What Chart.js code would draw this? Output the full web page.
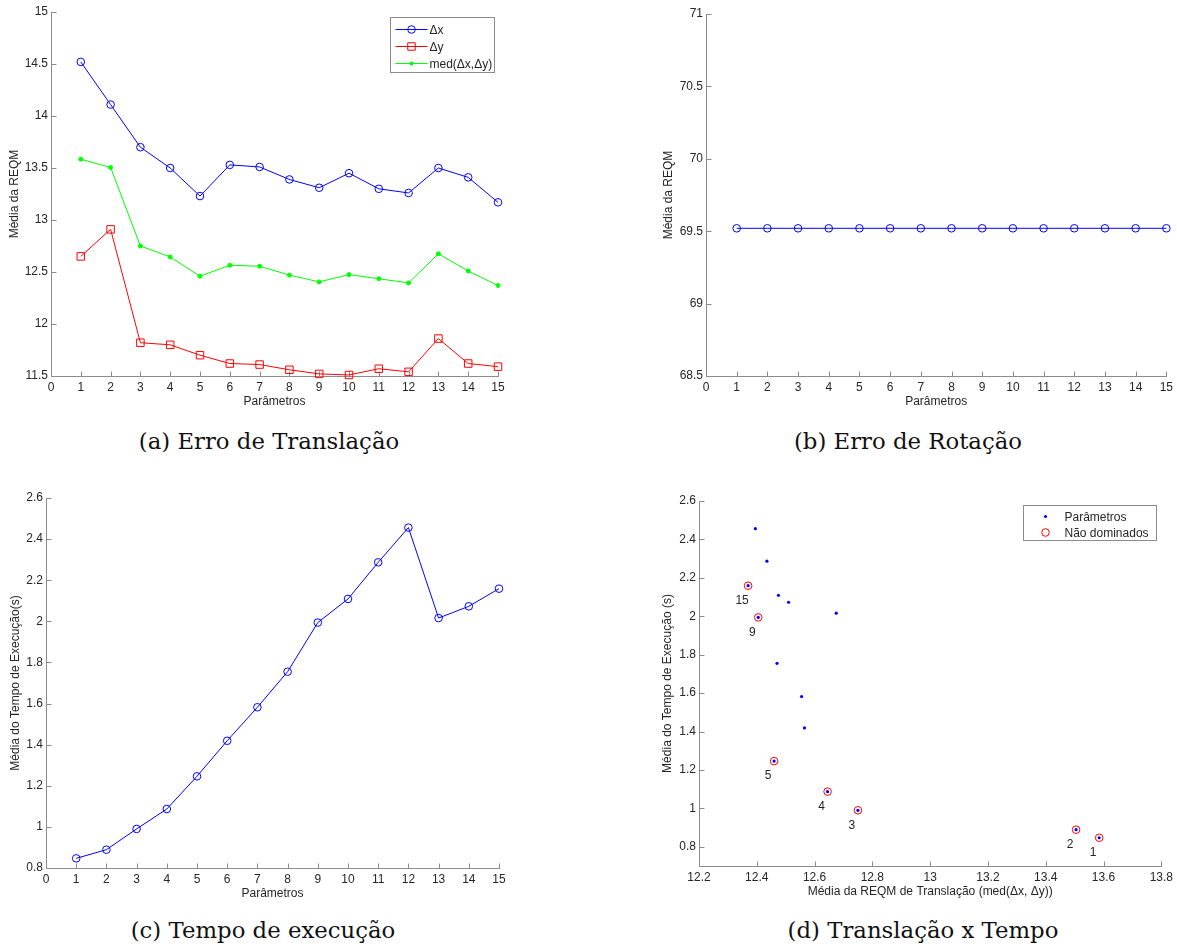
<!DOCTYPE html>
<html lang="pt">
<head>
<meta charset="utf-8">
<title>Parâmetros</title>
<script src="https://cdn.jsdelivr.net/npm/chart.js@4.4.1/dist/chart.umd.min.js"></script>
<style>
  html, body { margin: 0; padding: 0; background: #fff; }
  body { position: relative; width: 1177px; height: 946px; overflow: hidden; }
  .painel { position: absolute; }
  .painel canvas { display: block; }
  .rotulo { position: absolute; font-family: 'DejaVu Serif', serif; font-size: 22.8px; line-height: 22px;
            color: #111; white-space: nowrap; transform: translateX(-50%); }
</style>
</head>
<body>
<div class="painel" style="left:0;top:0"><canvas id="graficoA" width="540" height="415"></canvas></div>
<div class="painel" style="left:600px;top:0"><canvas id="graficoB" width="577" height="415"></canvas></div>
<div class="painel" style="left:0;top:480px"><canvas id="graficoC" width="540" height="425"></canvas></div>
<div class="painel" style="left:600px;top:480px"><canvas id="graficoD" width="577" height="425"></canvas></div>

<div class="rotulo" style="left:269px;top:430px">(a) Erro de Translação</div>
<div class="rotulo" style="left:908px;top:430px">(b) Erro de Rotação</div>
<div class="rotulo" style="left:263px;top:919px">(c) Tempo de execução</div>
<div class="rotulo" style="left:923px;top:919px">(d) Translação x Tempo</div>

<script>
// --- DADOS ---

const parametros = [1, 2, 3, 4, 5, 6, 7, 8, 9, 10, 11, 12, 13, 14, 15];
const ticksParametros = [0, 1, 2, 3, 4, 5, 6, 7, 8, 9, 10, 11, 12, 13, 14, 15];

// (a) erro de translação
const erroDx = [14.52, 14.11, 13.70, 13.50, 13.23, 13.53, 13.51, 13.39, 13.31, 13.45, 13.30, 13.26, 13.50, 13.41, 13.17];
const erroDy = [12.65, 12.91, 11.82, 11.80, 11.70, 11.62, 11.61, 11.56, 11.52, 11.51, 11.57, 11.54, 11.86, 11.62, 11.59];
const erroMed = [13.585, 13.505, 12.75, 12.645, 12.46, 12.565, 12.555, 12.47, 12.405, 12.475, 12.435, 12.395, 12.675, 12.51, 12.37];
const ticksTranslacao = [11.5, 12, 12.5, 13, 13.5, 14, 14.5, 15];

// (b) erro de rotação
const erroRot = [69.52, 69.52, 69.52, 69.52, 69.52, 69.52, 69.52, 69.52, 69.52, 69.52, 69.52, 69.52, 69.52, 69.52, 69.52];
const ticksRotacao = [68.5, 69, 69.5, 70, 70.5, 71];

// (c) tempo de execução
const tempoExec = [0.847, 0.889, 0.99, 1.087, 1.246, 1.419, 1.582, 1.755, 1.994, 2.109, 2.287, 2.456, 2.016, 2.073, 2.159];
const ticksTempo = [0.8, 1, 1.2, 1.4, 1.6, 1.8, 2, 2.2, 2.4, 2.6];

// (d) translação x tempo
const naoDominados = [1, 2, 3, 4, 5, 9, 15];
const ticksMedia = [12.2, 12.4, 12.6, 12.8, 13, 13.2, 13.4, 13.6, 13.8];

// --- ESTILO ---

const AZUL = '#0000ff';
const VERMELHO = '#ff0000';
const VERDE = '#00ff00';
const COR_EIXO = '#8c8c8c';
const COR_TEXTO = '#262626';
const FONTE = "'Liberation Sans', Arial, sans-serif";

Chart.defaults.font.family = FONTE;
Chart.defaults.font.size = 12;
Chart.defaults.color = COR_TEXTO;
Chart.defaults.animation = false;
Chart.defaults.events = [];
Chart.defaults.plugins.legend.display = false;
Chart.defaults.plugins.tooltip.enabled = false;

// --- AUXILIARES ---

function pares(xs, ys) {
    return xs.map((v, i) => ({ x: v, y: ys[i] }));
}

function marcador(ctx, estilo, x, y, r, cor, cheio) {
    ctx.beginPath();
    if (estilo === 'rect') {
        const s = r * Math.SQRT1_2;
        ctx.rect(x - s, y - s, 2 * s, 2 * s);
    } else {
        ctx.arc(x, y, r, 0, Math.PI * 2);
    }
    if (cheio) { ctx.fillStyle = cor; ctx.fill(); }
    else { ctx.strokeStyle = cor; ctx.lineWidth = 1; ctx.stroke(); }
}

// eixo no estilo do Matlab: só esquerda e baixo, ticks para dentro
function eixo(valores, min, max, titulo, tamanho, padTitulo, padTicks) {
    return {
        type: 'linear', min: min, max: max,
        grid: { display: false, drawTicks: false },
        border: { display: false },
        ticks: { padding: padTicks, autoSkip: false, maxRotation: 0, callback: v => String(v) },
        afterBuildTicks: s => { s.ticks = valores.map(v => ({ value: v })); },
        title: { display: true, text: titulo, padding: padTitulo },
        afterFit: s => { if (s.isHorizontal()) s.height = tamanho; else s.width = tamanho; }
    };
}

const eixosMatlab = {
    id: 'eixosMatlab',
    beforeDatasetsDraw(chart) {
        const { ctx, chartArea: a, scales: { x, y } } = chart;
        const L = Math.round(a.left) + 0.5, B = Math.round(a.bottom) + 0.5;
        ctx.save();
        ctx.strokeStyle = COR_EIXO;
        ctx.lineWidth = 1;
        ctx.beginPath();
        ctx.moveTo(L, Math.round(a.top));
        ctx.lineTo(L, B);
        ctx.lineTo(Math.round(a.right) + 1, B);
        x.ticks.forEach(t => {
            const p = Math.round(x.getPixelForValue(t.value)) + 0.5;
            ctx.moveTo(p, B); ctx.lineTo(p, B - 5);
        });
        y.ticks.forEach(t => {
            const p = Math.round(y.getPixelForValue(t.value)) + 0.5;
            ctx.moveTo(L, p); ctx.lineTo(L + 5, p);
        });
        ctx.stroke();
        ctx.restore();
    }
};

const caixaLegenda = {
    id: 'caixaLegenda',
    afterDatasetsDraw(chart, args, o) {
        if (!o.mostrar) return;
        const { ctx, chartArea: a } = chart;
        const x0 = Math.round(a.right - o.direita - o.largura) + 0.5;
        const y0 = Math.round(a.top + o.topo) + 0.5;
        ctx.save();
        ctx.fillStyle = '#fff';
        ctx.fillRect(x0, y0, o.largura, o.altura);
        ctx.strokeStyle = COR_EIXO;
        ctx.lineWidth = 1;
        ctx.strokeRect(x0, y0, o.largura, o.altura);
        ctx.font = '12px ' + FONTE;
        ctx.textBaseline = 'middle';
        ctx.textAlign = 'left';
        chart.data.datasets.forEach((ds, i) => {
            const yy = Math.round(y0 + o.primeiraLinha + i * o.entreLinhas) + 0.5;
            if (ds.showLine !== false) {
                ctx.strokeStyle = ds.borderColor;
                ctx.lineWidth = 1;
                ctx.beginPath();
                ctx.moveTo(x0 + 5, yy); ctx.lineTo(x0 + 37, yy);
                ctx.stroke();
            }
            marcador(ctx, ds.pointStyle, x0 + o.marcadorX, yy, ds.pointRadius,
                     ds.pointBorderColor, ds.marcadorCheio);
            ctx.fillStyle = COR_TEXTO;
            ctx.fillText(ds.label, x0 + o.textoX, yy + 1);
        });
        ctx.restore();
    }
};

const rotulosPontos = {
    id: 'rotulosPontos',
    afterDatasetsDraw(chart, args, o) {
        if (!o.rotulos) return;
        const meta = chart.getDatasetMeta(o.dataset);
        const ctx = chart.ctx;
        ctx.save();
        ctx.font = '12px ' + FONTE;
        ctx.fillStyle = COR_TEXTO;
        ctx.textAlign = 'center';
        ctx.textBaseline = 'middle';
        meta.data.forEach((p, i) => ctx.fillText(String(o.rotulos[i]), p.x + o.dx, p.y + o.dy));
        ctx.restore();
    }
};

Chart.register(eixosMatlab, caixaLegenda, rotulosPontos);

function serieLinha(rotulo, dados, cor, estilo, raio, cheio) {
    return {
        label: rotulo, data: dados,
        borderColor: cor, borderWidth: 1, tension: 0, fill: false, clip: false,
        pointStyle: estilo, pointRadius: raio, pointBorderWidth: 1,
        pointBorderColor: cor, pointBackgroundColor: cheio ? cor : 'rgba(0,0,0,0)',
        marcadorCheio: cheio
    };
}

// --- (a) ERRO DE TRANSLAÇÃO ---

new Chart(document.getElementById('graficoA'), {
    type: 'line',
    data: {
        datasets: [
            serieLinha('Δx', pares(parametros, erroDx), AZUL, 'circle', 3.8, false),
            serieLinha('Δy', pares(parametros, erroDy), VERMELHO, 'rect', 5.3, false),
            serieLinha('med(Δx,Δy)', pares(parametros, erroMed), VERDE, 'circle', 2, true)
        ]
    },
    options: {
        responsive: false,
        layout: { padding: { left: 0, top: 12, right: 42, bottom: 0 } },
        scales: {
            x: eixo(ticksParametros, 0, 15, 'Parâmetros', 39, { top: 0, bottom: 6 }, 4),
            y: eixo(ticksTranslacao, 11.5, 15, 'Média da REQM', 51, { top: 7, bottom: 0 }, 3)
        },
        plugins: {
            caixaLegenda: { mostrar: true, direita: 4, topo: 5, largura: 104, altura: 55,
                            primeiraLinha: 11, entreLinhas: 17, marcadorX: 21, textoX: 39 }
        }
    }
});

// --- (b) ERRO DE ROTAÇÃO ---

new Chart(document.getElementById('graficoB'), {
    type: 'line',
    data: {
        datasets: [ serieLinha('Rotação', pares(parametros, erroRot), AZUL, 'circle', 3.8, false) ]
    },
    options: {
        responsive: false,
        layout: { padding: { left: 0, top: 14, right: 10, bottom: 0 } },
        scales: {
            x: eixo(ticksParametros, 0, 15, 'Parâmetros', 39, { top: 0, bottom: 6 }, 4),
            y: eixo(ticksRotacao, 68.5, 71, 'Média da REQM', 106, { top: 61, bottom: 0 }, 3)
        }
    }
});

// --- (c) TEMPO DE EXECUÇÃO ---

new Chart(document.getElementById('graficoC'), {
    type: 'line',
    data: {
        datasets: [ serieLinha('Tempo', pares(parametros, tempoExec), AZUL, 'circle', 3.8, false) ]
    },
    options: {
        responsive: false,
        layout: { padding: { left: 0, top: 18, right: 41, bottom: 0 } },
        scales: {
            x: eixo(ticksParametros, 0, 15, 'Parâmetros', 37, { top: 0, bottom: 4 }, 4),
            y: eixo(ticksTempo, 0.8, 2.6, 'Média do Tempo de Execução(s)', 46, { top: 8, bottom: 0 }, 3)
        }
    }
});

// --- (d) TRANSLAÇÃO x TEMPO ---

new Chart(document.getElementById('graficoD'), {
    type: 'scatter',
    data: {
        datasets: [
            {
                label: 'Parâmetros', data: pares(erroMed, tempoExec), showLine: false, clip: false,
                pointStyle: 'circle', pointRadius: 1.6, pointBorderWidth: 0,
                pointBorderColor: AZUL, pointBackgroundColor: AZUL, marcadorCheio: true
            },
            {
                label: 'Não dominados',
                data: pares(naoDominados.map(n => erroMed[n - 1]), naoDominados.map(n => tempoExec[n - 1])),
                showLine: false, clip: false,
                pointStyle: 'circle', pointRadius: 3.8, pointBorderWidth: 1,
                pointBorderColor: VERMELHO, pointBackgroundColor: 'rgba(0,0,0,0)', marcadorCheio: false
            }
        ]
    },
    options: {
        responsive: false,
        layout: { padding: { left: 0, top: 21, right: 15, bottom: 0 } },
        scales: {
            x: eixo(ticksMedia, 12.2, 13.8, 'Média da REQM de Translação (med(Δx, Δy))', 39, { top: 0, bottom: 6 }, 4),
            y: eixo(ticksTempo, 0.7, 2.6, 'Média do Tempo de Execução (s)', 99, { top: 60, bottom: 0 }, 3)
        },
        plugins: {
            caixaLegenda: { mostrar: true, direita: 5, topo: 4, largura: 133, altura: 35,
                            primeiraLinha: 10, entreLinhas: 16, marcadorX: 22, textoX: 41 },
            rotulosPontos: { dataset: 1, rotulos: naoDominados, dx: -6, dy: 15 }
        }
    }
});
</script>
</body>
</html>
